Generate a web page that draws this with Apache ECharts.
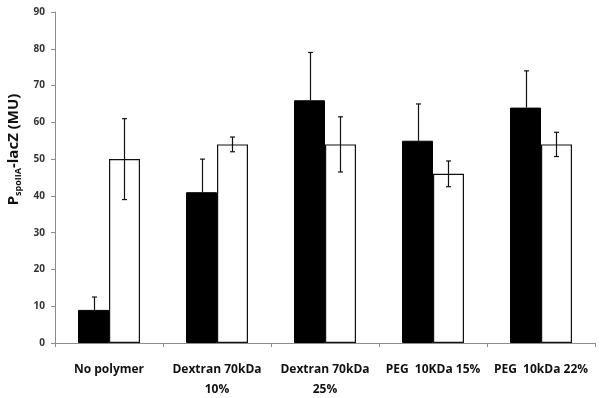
<!DOCTYPE html>
<html>
<head>
<meta charset="utf-8">
<script src="https://cdn.jsdelivr.net/npm/echarts@6/dist/echarts.min.js"></script>
<style>
  html, body { margin: 0; padding: 0; background: #fff; }
  #chart { width: 602px; height: 398px; }
</style>
</head>
<body>
<div id="chart"></div>
<script>
// categories (x axis)
const categories = ['No polymer', 'Dextran 70kDa\n10%', 'Dextran 70kDa\n25%', 'PEG  10KDa 15%', 'PEG  10kDa 22%']
// black bars and their error
const blackValues = [9, 41, 66, 55, 64]
const blackErrors = [3.5, 9, 13, 10, 10]
// white bars and their error
const whiteValues = [50, 54, 54, 46, 54]
const whiteErrors = [11, 2, 7.5, 3.5, 3.3]

const BAR_FRAC = 0.287
const font = '"Open Sans", "Liberation Sans", sans-serif'

const chart = echarts.init(document.getElementById('chart'))

// error bars: side -1 = left (black bar), +1 = right (white bar)
// on the black bars only the upper whisker shows, like the original
const errorSeries = (values, errors, side, upOnly) => ({
  type: 'custom',
  silent: true,
  z: 10,
  data: values.map((v, i) => [i, upOnly ? v : v - errors[i], v + errors[i]]),
  renderItem: function (params, api) {
    const idx = api.value(0)
    const lo = api.coord([idx, api.value(1)])
    const hi = api.coord([idx, api.value(2)])
    const bw = api.size([1, 0])[0] * BAR_FRAC
    const x = Math.round(lo[0] + side * bw / 2) + 0.5
    const cap = 2.5
    const style = { stroke: '#111', lineWidth: 1.2 }
    const children = [
      { type: 'line', shape: { x1: x, y1: lo[1], x2: x, y2: hi[1] }, style },
      { type: 'line', shape: { x1: x - cap, y1: hi[1], x2: x + cap, y2: hi[1] }, style }
    ]
    if (!upOnly) {
      children.push({ type: 'line', shape: { x1: x - cap, y1: lo[1], x2: x + cap, y2: lo[1] }, style })
    }
    return { type: 'group', children }
  }
})

chart.setOption({
  animation: false,
  grid: { left: 55, right: 7, top: 12, bottom: 55, outerBoundsMode: 'none', containLabel: false },
  xAxis: {
    type: 'category',
    data: categories,
    axisLine: { lineStyle: { color: '#8c8c8c', width: 1 } },
    axisTick: { show: true, length: 4, lineStyle: { color: '#8c8c8c' } },
    axisLabel: {
      interval: 0,
      margin: 17,
      color: '#111',
      fontSize: 12,
      fontWeight: 'bold',
      fontFamily: font,
      lineHeight: 20
    }
  },
  yAxis: {
    type: 'value',
    min: 0,
    max: 90,
    interval: 10,
    splitLine: { show: false },
    axisLine: { show: true, lineStyle: { color: '#8c8c8c', width: 1 } },
    axisTick: { show: true, length: 4, lineStyle: { color: '#8c8c8c' } },
    axisLabel: {
      margin: 10,
      color: '#333',
      fontSize: 10,
      fontWeight: 'bold',
      fontFamily: font
    },
    name: '{p|P}{sub|spoIIA}{p|-lacZ (MU)}',
    nameLocation: 'middle',
    nameGap: 30,
    nameTextStyle: {
      padding: [0, 0, 0, 56],
      rich: {
        p: { fontSize: 15, fontWeight: 'bold', color: '#111', fontFamily: font },
        sub: { fontSize: 9, fontWeight: 'bold', color: '#111', fontFamily: font, padding: [9, 0, 0, 0] }
      }
    }
  },
  series: [
    {
      type: 'bar',
      data: blackValues,
      barWidth: (BAR_FRAC * 100) + '%',
      barGap: '0%',
      itemStyle: { color: '#000', borderColor: '#000', borderWidth: 1 }
    },
    {
      type: 'bar',
      data: whiteValues,
      barWidth: (BAR_FRAC * 100) + '%',
      barGap: '0%',
      itemStyle: { color: '#fff', borderColor: '#111', borderWidth: 1.2 }
    },
    errorSeries(blackValues, blackErrors, -1, true),
    errorSeries(whiteValues, whiteErrors, 1, false)
  ]
})
</script>
</body>
</html>
